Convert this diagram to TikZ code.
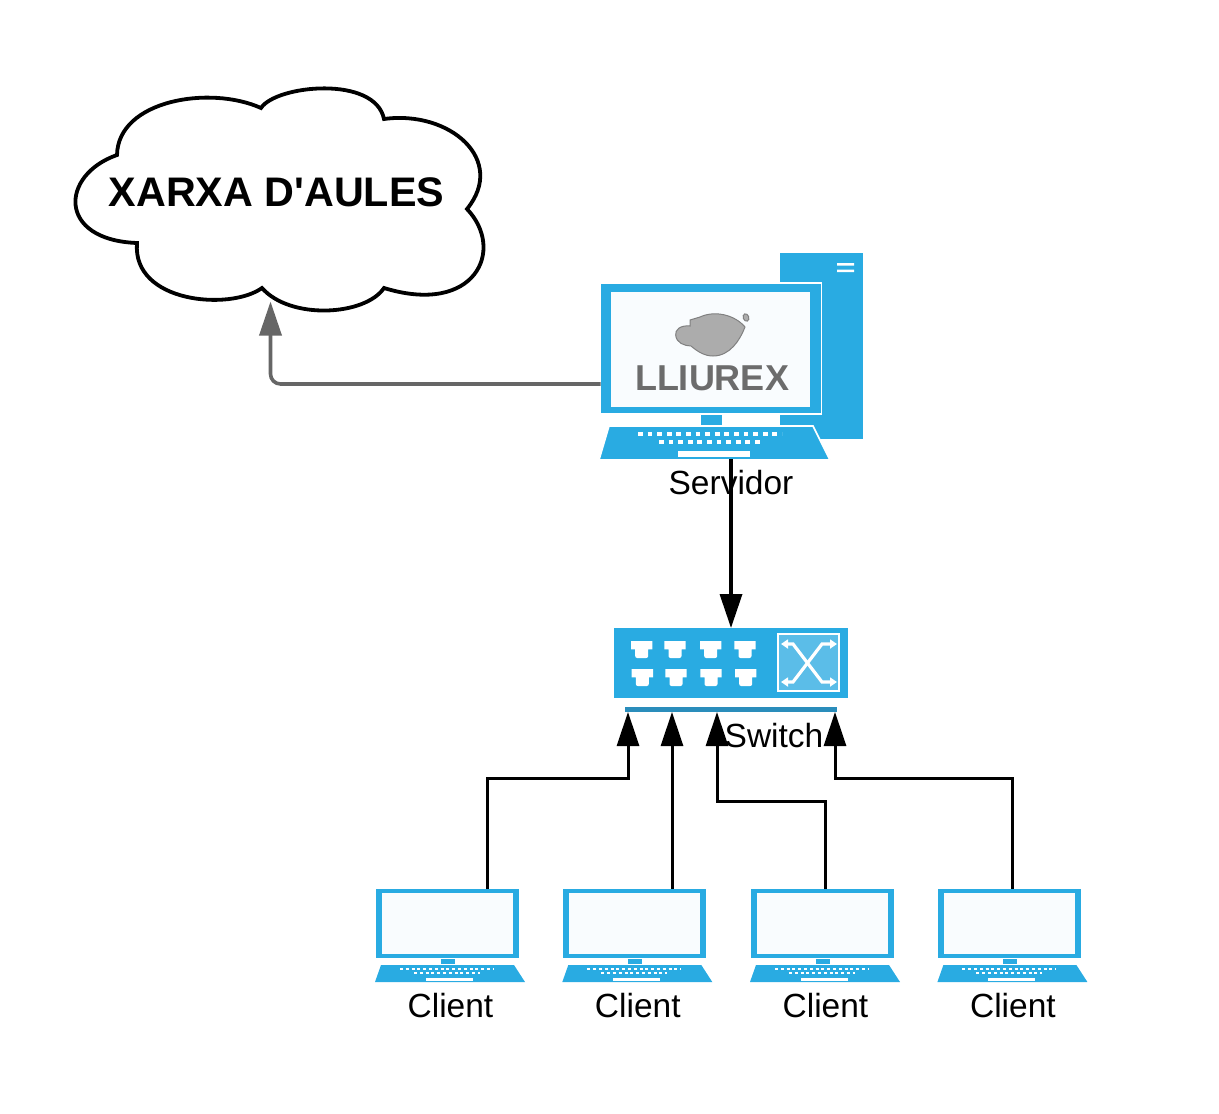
\documentclass[tikz,border=0pt]{standalone}
\usepackage{fontspec}
\setmainfont{Liberation Sans}
\usepackage{xcolor}
\usetikzlibrary{arrows.meta}
\definecolor{lxblue}{HTML}{29ABE2}
\definecolor{lxdark}{HTML}{2A8DBB}
\definecolor{lxlight}{HTML}{5BBDE8}
\definecolor{lxscreen}{HTML}{F9FCFE}
\definecolor{lxgrey}{HTML}{666666}

\begin{document}
\begin{tikzpicture}[x=1pt, y=-1pt, >={Triangle[length=34pt,width=22pt]}]
    \tikzstyle{label} = [inner sep=0pt, font=\fontsize{33.5}{36}\selectfont]
    \tikzstyle{screen} = [rectangle, fill=lxscreen, inner sep=0pt, outer sep=0pt]
    \tikzstyle{frame} = [rectangle, fill=lxblue, inner sep=0pt, outer sep=0pt]
    \tikzstyle{link} = [draw=black, line width=3pt, ->]

    \useasboundingbox (0,0) rectangle (1219,1114);

    % Cloud
    \draw[line width=3.8pt, fill=white] (261,108)
        .. controls (276,85) and (375,75) .. (384,119)
        .. controls (450,110) and (507,160) .. (467,209)
        .. controls (506,250) and (475,316) .. (384,288)
        .. controls (365,316) and (290,320) .. (262,288)
        .. controls (230,311) and (132,303) .. (137,243)
        .. controls (57,240) and (60,175) .. (117,155)
        .. controls (118,100) and (210,85) .. cycle;
    \node (cloud) [inner sep=0pt, outer sep=0pt, minimum width=336pt, minimum height=219pt, font=\fontsize{41.3}{44}\selectfont\bfseries] at (276.5,192) {XARXA D\textquotesingle AULES};

    % Server
    \fill[lxblue] (780,253) rectangle (863,439);
    \fill[white] (837,263) rectangle (854,265.5) (837,269.5) rectangle (854,272);
    \node (server) [frame, draw=white, line width=1.6pt, minimum width=221pt, minimum height=131pt] at (711,348.5) {};
    \node (serverscreen) [screen, minimum width=199pt, minimum height=115pt] at (710.5,349.5) {};
    \fill[lxblue] (701,415) rectangle (722,425);
    \fill[lxblue, draw=white, line width=1.6pt] (609,426) -- (813,426) -- (830,460) -- (599,460) -- cycle;
    \draw[white, line width=4pt, dash pattern=on 4.7pt off 4.9pt] (638,434) -- (782,434);
    \draw[white, line width=4pt, dash pattern=on 4.7pt off 4.9pt] (659,442) -- (762,442);
    \fill[white] (678,451) rectangle (750,457);
    \coordinate (serverbase) at (731,459);

    % Logo
    \draw[draw=gray, fill=gray!65, line width=1pt] (745,327) .. controls (735,315) and (715,310) .. (700,317)
        -- (690,320) -- (690,326) .. controls (680,325) and (675,330) .. (675.7,335)
        .. controls (676,343) and (685,346) .. (691,346)
        .. controls (698,352) and (705,356) .. (713,356)
        .. controls (730,356) and (740,340) .. cycle;
    \draw[draw=gray, fill=gray!65, line width=1pt, rotate around={20:(746,317.5)}] (746,317.5) ellipse (2.8pt and 3.8pt);
    \node (logo) [inner sep=0pt, text=gray!85!black, font=\fontsize{36}{38}\selectfont\bfseries] at (712,378) {LLIUREX};

    \node (serverlabel) [label] at (731,483) {Servidor};

    % Switch
    \node (switch) [frame, minimum width=234pt, minimum height=70pt] at (731,663) {};
    \foreach \x/\y in {641.7/641, 675/641, 710.7/641, 745/641, 642.3/669, 676/669, 711/669, 745.7/669}
        \fill[white] (\x-10.7,\y) -- (\x+10.7,\y) -- (\x+10.7,\y+8.3) -- (\x+6.5,\y+8.3) [rounded corners=2pt] -- (\x+6.5,\y+17)
            -- (\x-6.5,\y+17) [sharp corners] -- (\x-6.5,\y+8.3) -- (\x-10.7,\y+8.3) -- cycle;
    \draw[white, fill=lxlight, line width=2pt] (778,633.5) rectangle (839,690.5);
    \draw[white, line width=3.2pt, {Triangle[length=7pt,width=9pt]}-{Triangle[length=7pt,width=9pt]}] (781,644) -- (793,644) -- (822,682) -- (837,682);
    \draw[white, line width=3.2pt, {Triangle[length=7pt,width=9pt]}-{Triangle[length=7pt,width=9pt]}] (837,644) -- (822,644) -- (793,682) -- (781,682);
    \node (switchbar) [rectangle, fill=lxdark, inner sep=0pt, outer sep=0pt, minimum width=212pt, minimum height=5pt] at (731,709.5) {};

    % Clients
    \foreach \i/\dx in {1/0, 2/187.3, 3/375, 4/562.4} {
        \begin{scope}[xshift=\dx pt]
            \node (client\i) [frame, minimum width=143pt, minimum height=69pt] at (447.5,923.5) {};
            \node (clientscreen\i) [screen, minimum width=131pt, minimum height=61pt] at (447.5,923.5) {};
            \fill[lxblue] (441,959) rectangle (455,964);
            \fill[lxblue] (381,965) -- (514,965) -- (525,982) -- (375,982) -- cycle;
            \draw[white, line width=2.2pt, dash pattern=on 3pt off 2.8pt] (400,969) -- (493,969);
            \draw[white, line width=2.2pt, dash pattern=on 3pt off 2.8pt] (414,973) -- (480,973);
            \fill[white] (426,978) rectangle (473,981);
            \node (clientlabel\i) [label] at (450.5,1006) {Client};
        \end{scope}
    }

    % Links
    \draw[draw=lxgrey, line width=3.6pt, rounded corners=10pt, ->, >={Triangle[length=34pt,width=22pt]}] ([yshift=-35.5pt]server.west) -| ([xshift=-6pt]cloud.south);
    \draw[link, line width=3.5pt] (serverbase) -- (switch.north);
    \draw[link] ([xshift=39.5pt]client1.north) |- ([xshift=-103pt,yshift=-66pt]switchbar.south) -- ([xshift=-103pt]switchbar.south);
    \draw[link] ([xshift=37.2pt]client2.north) -- ([xshift=-59pt]switchbar.south);
    \draw[link] ([xshift=2.5pt]client3.north) |- ([xshift=-14pt,yshift=-89pt]switchbar.south) -- ([xshift=-14pt]switchbar.south);
    \draw[link] ([xshift=2.5pt]client4.north) |- ([xshift=104pt,yshift=-66pt]switchbar.south) -- ([xshift=104pt]switchbar.south);

    \node (switchlabel) [label] at (774,736) {Switch};
\end{tikzpicture}
\end{document}
